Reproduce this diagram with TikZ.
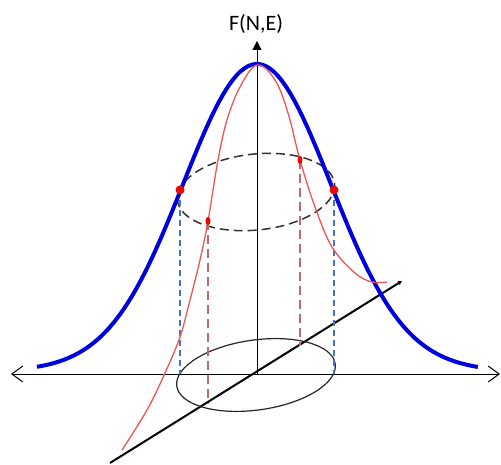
\documentclass[tikz,border=0pt]{standalone}
\usepackage{fontspec}
\setmainfont{Carlito}
\definecolor{curveblue}{RGB}{0, 0, 220}
\definecolor{curvered}{RGB}{240, 85, 85}
\definecolor{dotred}{RGB}{230, 10, 10}
\definecolor{projblue}{RGB}{70, 114, 196}
\definecolor{projred}{RGB}{192, 105, 105}
\usetikzlibrary{arrows.meta, shapes.geometric}

\begin{document}
\begin{tikzpicture}[x=1pt, y=-1pt,
  axisline/.style={draw=black, line width=1pt},
  gaussblue/.style={draw=curveblue, line width=4pt},
  gaussred/.style={draw=curvered, line width=1.3pt},
  projb/.style={draw=projblue, line width=2.2pt, dash pattern=on 6pt off 4pt},
  projr/.style={draw=projred, line width=1.6pt, dash pattern=on 9pt off 5pt},
  bigdot/.style={circle, fill=dotred, inner sep=0pt, minimum size=9pt},
  smalldot/.style={ellipse, fill=dotred, inner sep=0pt, minimum width=5pt, minimum height=8pt}
]
  \useasboundingbox (0,0) rectangle (501,465);

  % axes
  \coordinate (O) at (257,374);
  \coordinate (xleft) at (11,374);
  \coordinate (xright) at (500,374);
  \coordinate (ytop) at (257,41);
  \coordinate (dlow) at (110,463);
  \coordinate (dhigh) at (402,281);
  \node[font=\fontsize{22}{24}\selectfont] (fne) at (256,24) {F(N,E)};
  \draw[axisline, {Straight Barb[length=11pt,width=16pt]}-{Straight Barb[length=11pt,width=16pt]}] (xleft) -- (xright);
  \draw[axisline, -{Triangle[length=9pt,width=9pt]}] (O) -- (ytop);
  \draw[line width=2pt, -{Triangle[length=4pt,width=4pt]}] (dlow) -- (dhigh);

  % ellipses
  \draw[line width=1.2pt, black!85, rotate around={8:(256,375)}] (256,375) ellipse [x radius=80, y radius=35];
  \draw[line width=1.5pt, black!80, dash pattern=on 9pt off 5pt, rotate around={6:(256,192)}] (256,192) ellipse [x radius=79, y radius=38];

  % projections
  \coordinate (bl) at (180,190);
  \coordinate (br) at (334,190);
  \coordinate (rl) at (208,221);
  \coordinate (rr) at (300,160);
  \draw[projb] (bl) -- (180,374);
  \draw[projb] (br) -- (334,374);
  \draw[projr] (rl) -- (208,404);
  \draw[projr] (rr) -- (300,346);

  % curves
  \draw[gaussblue] plot[domain=-2.2:2.21, samples=120, smooth]
    ({257+100*\x}, {374-300*exp(-\x*\x/1.08)-10*exp(-\x*\x/5)});
  \draw[gaussred] plot[smooth, tension=0.6] coordinates {
    (122,450) (147,410) (165,373) (180,337) (190,300) (200,260) (208,221)
    (218,160) (227,120) (240,87) (257,65) (275,80) (288,113) (300,160)
    (315,207) (332,247) (355,273) (372,282) (387,282)};

  % points
  \node[bigdot] at (bl) {};
  \node[bigdot] at (br) {};
  \node[smalldot] at (rl) {};
  \node[smalldot] at (rr) {};
\end{tikzpicture}
\end{document}
